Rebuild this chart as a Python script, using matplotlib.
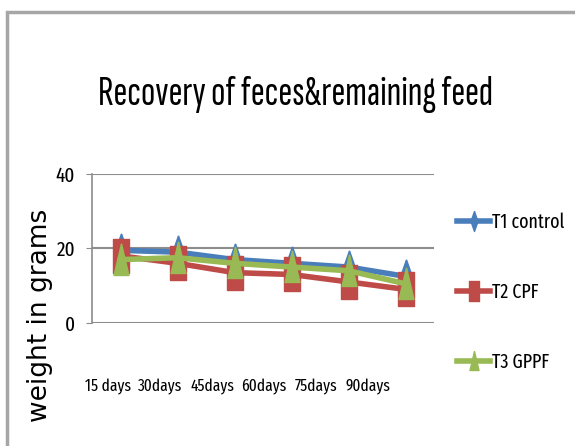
import matplotlib
matplotlib.use('Agg')
import matplotlib.pyplot as plt
from matplotlib.patches import Rectangle
import numpy as np

# data
days = ['15 days', '30days', '45days', '60days', '75days', '90days']
t1_control = [19.5, 19.0, 17.0, 16.0, 15.0, 12.5]
t2_cpf = [18.0, 16.0, 13.5, 13.0, 11.0, 9.0]
t3_gppf = [17.0, 17.5, 16.0, 15.0, 14.0, 10.5]

series_names = ['T1 control', 'T2 CPF', 'T3 GPPF']
colors = ['#4a7ebb', '#be4b48', '#98b954']

# the original picture is squeezed sideways, so use narrow faces
narrow = ['Fira Sans Extra Condensed', 'Sofia Sans Extra Condensed', 'Carlito', 'DejaVu Sans']
narrower = ['Sofia Sans Extra Condensed', 'Fira Sans Extra Condensed', 'Carlito', 'DejaVu Sans']

# tall, thin markers
diamond = [(0, 1.0), (0.35, 0), (0, -1.0), (-0.35, 0), (0, 1.0)]
square = [(-0.45, -0.9), (0.45, -0.9), (0.45, 0.9), (-0.45, 0.9), (-0.45, -0.9)]
triangle = [(0, 1.0), (0.45, -0.9), (-0.45, -0.9), (0, 1.0)]
markers = [diamond, square, triangle]

fig = plt.figure(figsize=(5.75, 4.46), dpi=100)
ax = fig.add_axes([0.160, 0.276, 0.595, 0.334])

x = np.arange(len(days))
for vals, name, c, m in zip([t1_control, t2_cpf, t3_gppf], series_names, colors, markers):
    ax.plot(x, vals, color=c, lw=4, marker=m, markersize=24,
            markerfacecolor=c, markeredgecolor=c, label=name)

ax.set_xlim(-0.5, len(days) - 0.5)
ax.set_ylim(0, 40)
ax.set_yticks([0, 20, 40])
ax.set_xticks([])
for lbl in ax.get_yticklabels():
    lbl.set_fontsize(15)
    lbl.set_family(narrow)
ax.yaxis.grid(True, color='#8c8c8c', lw=1.5)
ax.set_axisbelow(True)
for s in ['top', 'right', 'bottom']:
    ax.spines[s].set_visible(False)
ax.spines['left'].set_color('#8c8c8c')
ax.spines['left'].set_linewidth(1.2)
ax.tick_params(axis='y', length=4, color='#8c8c8c', pad=8)

# in the reference the category labels sit on a slightly tighter row than the points
lab_ax = fig.add_axes([82 / 575, 0.276, 312 / 575, 0.334], frameon=False)
lab_ax.set_xlim(-0.5, len(days) - 0.5)
lab_ax.set_xticks(x)
lab_ax.set_xticklabels(days, fontsize=12, family=narrow)
lab_ax.set_yticks([])
lab_ax.tick_params(axis='x', length=0, pad=40)

fig.text(40 / 575, 1 - 315 / 446, 'weight in grams', rotation=90, ha='center', va='center',
         fontsize=19, family='DejaVu Sans')

title = fig.text(295 / 575, 1 - 105 / 446, 'Recovery of feces&remaining feed', ha='center',
                 va='baseline', fontsize=30, family=narrower)
# size the title so it spans the same width as in the reference (~396 px)
fig.canvas.draw()
w = title.get_window_extent().width
title.set_fontsize(30 * 396 / w)

fig.legend(*ax.get_legend_handles_labels(), loc='center left',
           bbox_to_anchor=(457 / 575, 1 - 292 / 446), frameon=False,
           prop={'family': narrow, 'size': 14}, handlelength=1.7, handletextpad=0.1,
           labelspacing=2.6, markerscale=0.6, borderpad=0, borderaxespad=0)

# chart frame, runs off the right and bottom edges
fig.patches.append(Rectangle((7 / 575, -0.1), 1.2, 1 - 12 / 446 + 0.1,
                             transform=fig.transFigure, fill=False,
                             edgecolor='#a6a6a6', lw=2.5))

fig.savefig('out.png', dpi=100)
